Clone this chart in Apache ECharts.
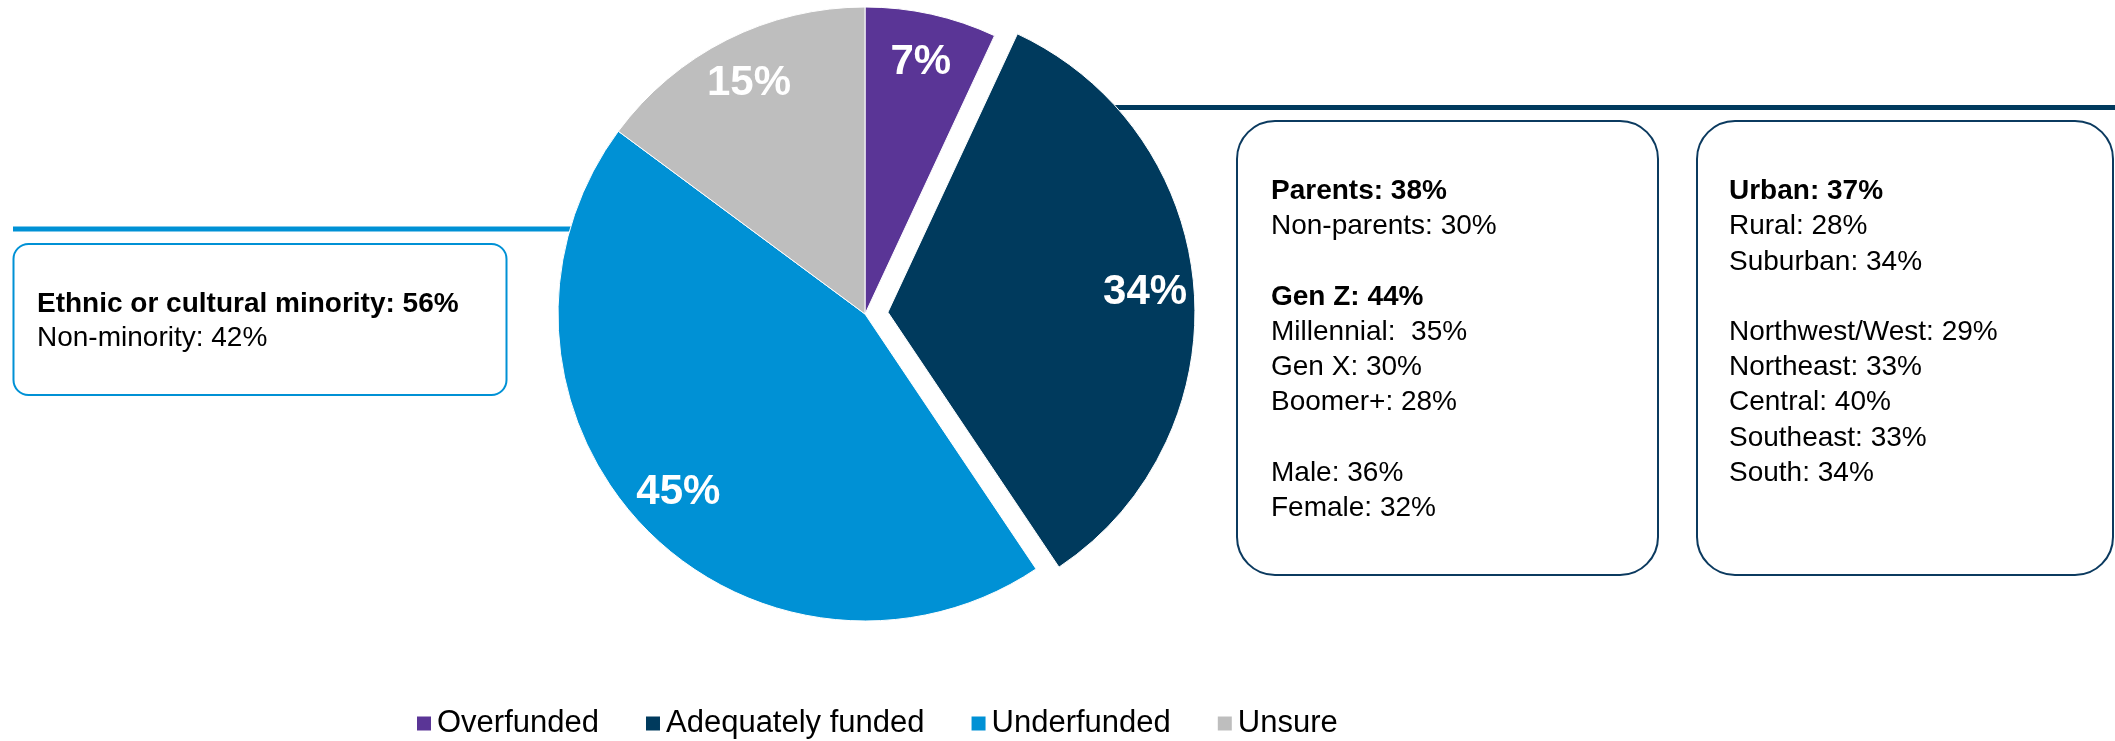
<!DOCTYPE html>
<html>
<head>
<meta charset="utf-8">
<script src="https://cdn.jsdelivr.net/npm/echarts@6/dist/echarts.min.js"></script>
<style>
  html, body { margin: 0; padding: 0; background: #ffffff; }
  #chart { width: 2115px; height: 741px; }
</style>
</head>
<body>
<div id="chart"></div>
<script>
// Opinion on funding level: share of respondents per answer
const categories = ['Overfunded', 'Adequately funded', 'Underfunded', 'Unsure'];
const shares = [7, 34, 45, 15];
const explodedIndex = 1; // "Adequately funded" slice is pulled out

// Call-out notes: [text, bold]
const minorityNotes = [
  ['Ethnic or cultural minority: 56%', true],
  ['Non-minority: 42%', false]
];
const demographicNotes = [
  ['Parents: 38%', true],
  ['Non-parents: 30%', false],
  ['', false],
  ['Gen Z: 44%', true],
  ['Millennial:  35%', false],
  ['Gen X: 30%', false],
  ['Boomer+: 28%', false],
  ['', false],
  ['Male: 36%', false],
  ['Female: 32%', false]
];
const regionNotes = [
  ['Urban: 37%', true],
  ['Rural: 28%', false],
  ['Suburban: 34%', false],
  ['', false],
  ['Northwest/West: 29%', false],
  ['Northeast: 33%', false],
  ['Central: 40%', false],
  ['Southeast: 33%', false],
  ['South: 34%', false]
];

const COLORS = ['#5A3596', '#003A5D', '#0091D5', '#BEBEBE'];
const FONT = '"Liberation Sans", Arial, Helvetica, sans-serif';
const CENTER = [865, 314];
const RADIUS = 307;
const OFFSET = 23;

function noteBox(x, y, w, h, r, stroke, lines, textX, firstY, step) {
  const children = [{
    type: 'rect',
    shape: { x: x, y: y, width: w, height: h, r: r },
    style: { fill: '#ffffff', stroke: stroke, lineWidth: 2 },
    z: 5
  }];
  lines.forEach(function (entry, i) {
    if (!entry[0]) return;
    children.push({
      type: 'text',
      x: textX,
      y: firstY + i * step,
      z: 6,
      style: {
        text: entry[0],
        fontFamily: FONT,
        fontSize: 28,
        fontWeight: entry[1] ? 'bold' : 'normal',
        fill: '#000000',
        verticalAlign: 'middle'
      }
    });
  });
  return { type: 'group', children: children };
}

const fillData = categories.map(function (name, i) {
  return { name: name, value: shares[i], selected: i === explodedIndex, itemStyle: { color: COLORS[i] } };
});
const labelData = categories.map(function (name, i) {
  return { name: name, value: shares[i], selected: i === explodedIndex };
});

const chart = echarts.init(document.getElementById('chart'), null, { renderer: 'canvas' });
chart.setOption({
  animation: false,
  backgroundColor: '#ffffff',
  legend: {
    left: 415,
    top: 708,
    padding: 0,
    itemWidth: 16,
    itemHeight: 16,
    itemGap: 45,
    icon: 'rect',
    selectedMode: false,
    textStyle: { fontFamily: FONT, fontSize: 31, color: '#000000' },
    data: categories.map(function (name, i) {
      return { name: name, itemStyle: { color: COLORS[i] } };
    })
  },
  graphic: [
    // connector rules running behind the pie
    { type: 'line', z: 1, shape: { x1: 13, y1: 229, x2: 650, y2: 229 }, style: { stroke: '#0091D5', lineWidth: 5 } },
    { type: 'line', z: 1, shape: { x1: 1040, y1: 107.5, x2: 2115, y2: 107.5 }, style: { stroke: '#003A5D', lineWidth: 5 } },
    noteBox(13.5, 244, 493, 151, 15, '#0091D5', minorityNotes, 37, 304, 34),
    noteBox(1237, 121, 421, 454, 38, '#0B3A5F', demographicNotes, 1271, 191.5, 35.2),
    noteBox(1697, 121, 416, 454, 38, '#0B3A5F', regionNotes, 1729, 191.5, 35.2)
  ],
  series: [
    {
      type: 'pie',
      z: 3,
      center: CENTER,
      radius: RADIUS,
      startAngle: 90,
      clockwise: true,
      selectedMode: 'single',
      selectedOffset: OFFSET,
      avoidLabelOverlap: false,
      label: { show: false },
      labelLine: { show: false },
      itemStyle: { borderColor: '#ffffff', borderWidth: 1 },
      emphasis: { disabled: true },
      data: fillData
    },
    {
      // transparent ring carrying the value labels further out
      type: 'pie',
      z: 4,
      silent: true,
      center: CENTER,
      radius: [203, RADIUS],
      startAngle: 90,
      clockwise: true,
      selectedMode: 'single',
      selectedOffset: OFFSET,
      avoidLabelOverlap: false,
      itemStyle: { color: 'rgba(0,0,0,0)', borderWidth: 0 },
      select: { itemStyle: { color: 'rgba(0,0,0,0)' } },
      emphasis: { disabled: true },
      labelLine: { show: false },
      label: {
        show: true,
        position: 'inside',
        formatter: '{c}%',
        color: '#ffffff',
        fontFamily: FONT,
        fontWeight: 'bold',
        fontSize: 42
      },
      data: labelData
    }
  ]
});
</script>
</body>
</html>
